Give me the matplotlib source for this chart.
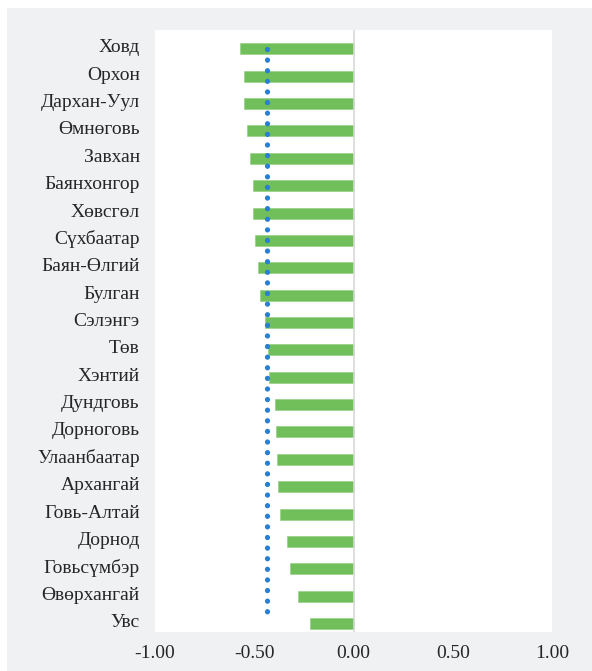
import matplotlib
matplotlib.use("Agg")
import matplotlib.pyplot as plt
import matplotlib.transforms as mtransforms
from matplotlib.patches import Rectangle
from matplotlib.ticker import FuncFormatter

categories = ["Ховд", "Орхон", "Дархан-Уул", "Өмнөговь", "Завхан", "Баянхонгор",
              "Хөвсгөл", "Сүхбаатар", "Баян-Өлгий", "Булган", "Сэлэнгэ", "Төв",
              "Хэнтий", "Дундговь", "Дорноговь", "Улаанбаатар", "Архангай",
              "Говь-Алтай", "Дорнод", "Говьсүмбэр", "Өвөрхангай", "Увс"]
values = [-0.574, -0.550, -0.550, -0.537, -0.519, -0.507, -0.505, -0.497, -0.483,
          -0.471, -0.448, -0.431, -0.426, -0.394, -0.390, -0.385, -0.380, -0.369,
          -0.335, -0.322, -0.279, -0.221]
average = -0.436
x_ticks = [-1.0, -0.5, 0.0, 0.5, 1.0]

plt.rcParams['font.family'] = ['Liberation Serif', 'DejaVu Serif']
text_color = '#262626'

W, H = 592, 671
fig = plt.figure(figsize=(W / 100, H / 100), dpi=100)
fig.patch.set_facecolor('white')
fig.add_artist(Rectangle((7 / W, 0), 1 - 7 / W, (H - 8) / H, transform=fig.transFigure,
                         facecolor='#F0F1F3', edgecolor='none', zorder=0))

ax = fig.add_axes([155 / W, 1 - 632 / H, (552 - 155) / W, (632 - 30) / H])
ax.set_facecolor('white')

n = len(categories)
ypos = list(range(n))
ax.barh(ypos, values, height=0.40, color='#70BF5A', edgecolor='#8FCF7D', linewidth=0.4, zorder=2)
ax.axvline(0, color='#D9D9D9', linewidth=1.2, zorder=3)
ax.plot([average, average], [0, n - 1 - 0.15], color='#2A7FCF', linewidth=3.8,
        linestyle=(0, (0.01, 2.0)), dash_capstyle='round', zorder=4)

ax.set_xlim(x_ticks[0], x_ticks[-1])
ax.set_ylim(n - 1 + 0.31, -0.69)
ax.set_yticks(ypos)
ax.set_yticklabels(categories)
ax.set_xticks(x_ticks)
ax.xaxis.set_major_formatter(FuncFormatter(lambda v, p: f"{v:.2f}"))
ax.tick_params(axis='both', length=0, labelsize=14, colors=text_color)
ax.tick_params(axis='y', pad=11)
ax.tick_params(axis='x', pad=9)
for s in ax.spines.values():
    s.set_visible(False)

shift = mtransforms.ScaledTranslation(0, 3 / 100, fig.dpi_scale_trans)
for lbl in ax.get_yticklabels():
    lbl.set_transform(lbl.get_transform() + shift)

fig.savefig('out.png', dpi=100, facecolor=fig.get_facecolor())
